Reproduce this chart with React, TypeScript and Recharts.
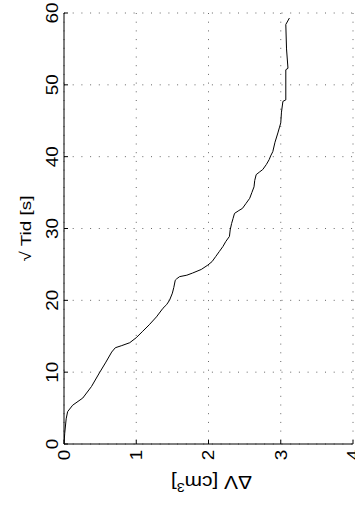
import { LineChart, Line, XAxis, YAxis, CartesianGrid, Label } from "recharts";

// ΔV [cm³] on x, √Tid [s] on y
const dv = [
  0, 0.01, 0.03, 0.05, 0.12, 0.26, 0.38, 0.49, 0.58, 0.66, 0.71, 0.8, 0.91, 1.0, 1.09, 1.18, 1.28, 1.37,
  1.42, 1.46, 1.5, 1.52, 1.54, 1.56, 1.6, 1.7, 1.78, 1.9, 1.99, 2.05, 2.1, 2.15, 2.2, 2.24, 2.29, 2.3,
  2.32, 2.34, 2.36, 2.42, 2.47, 2.52, 2.57, 2.6, 2.63, 2.64, 2.66, 2.71, 2.75, 2.8, 2.84, 2.86, 2.89,
  2.92, 2.96, 2.98, 3.0, 3.01, 3.03, 3.07, 3.07, 3.1, 3.08, 3.07, 3.12,
];
const sqrtTid = [
  0, 1.5, 3.5, 4.5, 5.4, 6.4, 8.0, 9.9, 11.4, 12.8, 13.4, 13.7, 14.1, 14.8, 15.7, 16.6, 17.7, 18.9,
  19.4, 20.0, 21.0, 21.8, 22.8, 23.0, 23.3, 23.5, 23.8, 24.3, 24.9, 25.4, 26.1, 26.8, 27.5, 28.2, 28.9,
  29.8, 30.7, 31.4, 32.1, 32.5, 32.8, 33.5, 34.2, 35.0, 35.8, 36.7, 37.5, 37.9, 38.2, 38.9, 39.6, 40.1,
  40.7, 42.0, 43.3, 44.0, 44.7, 46.2, 47.7, 47.9, 52.1, 52.3, 55.0, 58.4, 59.3,
];
const xTicks = [0, 1, 2, 3, 4];
const yTicks = [0, 10, 20, 30, 40, 50, 60];

const data = dv.map((x, i) => ({ dv: x, t: sqrtTid[i] }));

const FONT = "'Liberation Sans', Arial, Helvetica, sans-serif";
const TICK_LEN = 4;

// bottom: inward tick + label turned -90deg
const BottomTick = ({ x, y, payload }: any) => (
  <g>
    <line x1={x} y1={y} x2={x} y2={y - TICK_LEN} stroke="#000" />
    <text
      transform={`translate(${x + 5.8},${y + 11}) rotate(-90) scale(1.18,1)`}
      textAnchor="middle"
      fontSize={16}
      fontFamily={FONT}
      fill="#000"
    >
      {payload.value}
    </text>
  </g>
);

const LeftTick = ({ x, y, payload }: any) => (
  <g>
    <line x1={x} y1={y} x2={x + TICK_LEN} y2={y} stroke="#000" />
    <text
      transform={`translate(${x - 6.5},${y}) rotate(-90) scale(1.18,1)`}
      textAnchor="middle"
      fontSize={16}
      fontFamily={FONT}
      fill="#000"
    >
      {payload.value}
    </text>
  </g>
);

const TopTick = ({ x, y }: any) => <line x1={x} y1={y} x2={x} y2={y + TICK_LEN} stroke="#000" />;
const RightTick = ({ x, y }: any) => <line x1={x} y1={y} x2={x - TICK_LEN} y2={y} stroke="#000" />;

export default function App() {
  return (
    <div style={{ position: "absolute", left: 0, top: 0, width: 355, height: 508, background: "#fff" }}>
      <LineChart width={355} height={508} data={data} margin={{ top: 13, right: 2, bottom: 0, left: 0 }}>
        <CartesianGrid stroke="#666" strokeDasharray="1 7.7" horizontalValues={yTicks} verticalValues={xTicks} />
        <XAxis
          dataKey="dv"
          type="number"
          domain={[0, 4]}
          ticks={xTicks}
          height={64}
          tickSize={0}
          tickMargin={0}
          tickLine={false}
          tick={BottomTick}
          axisLine={{ stroke: "#000" }}
          interval={0}
          allowDataOverflow
        >
          <Label
            content={({ viewBox }: any) => (
              <text
                transform={`translate(${viewBox.x + viewBox.width / 2 + 3},${viewBox.y + 32}) rotate(180) scale(1.1,1)`}
                textAnchor="middle"
                fontSize={19}
                fontFamily={FONT}
                fill="#000"
              >
                <tspan>ΔV [cm</tspan>
                <tspan dy={-7} fontSize={13}>3</tspan>
                <tspan dy={7}>]</tspan>
              </text>
            )}
          />
        </XAxis>
        <XAxis
          xAxisId="top"
          orientation="top"
          type="number"
          domain={[0, 4]}
          ticks={xTicks}
          height={0}
          tickSize={0}
          tickMargin={0}
          tickLine={false}
          tick={TopTick}
          axisLine={{ stroke: "#000" }}
          interval={0}
        />
        <YAxis
          dataKey="t"
          type="number"
          domain={[0, 60]}
          ticks={yTicks}
          width={64}
          tickSize={0}
          tickMargin={0}
          tickLine={false}
          tick={LeftTick}
          axisLine={{ stroke: "#000" }}
          interval={0}
          allowDataOverflow
        >
          <Label
            content={({ viewBox }: any) => (
              <text
                transform={`translate(${viewBox.x + 31},${viewBox.y + viewBox.height / 2}) rotate(-90) scale(1.22,1)`}
                textAnchor="middle"
                fontSize={15.5}
                fontFamily={FONT}
                fill="#000"
              >
                √ Tid [s]
              </text>
            )}
          />
        </YAxis>
        <YAxis
          yAxisId="right"
          orientation="right"
          type="number"
          domain={[0, 60]}
          ticks={yTicks}
          width={0}
          tickSize={0}
          tickMargin={0}
          tickLine={false}
          tick={RightTick}
          axisLine={{ stroke: "#000" }}
          interval={0}
        />
        <Line
          dataKey="t"
          type="linear"
          stroke="#000"
          strokeWidth={1}
          dot={false}
          activeDot={false}
          isAnimationActive={false}
        />
      </LineChart>
    </div>
  );
}
